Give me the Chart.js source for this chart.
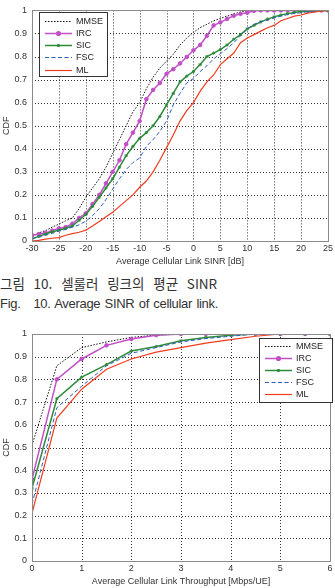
<!DOCTYPE html>
<html lang="ko">
<head>
<meta charset="UTF-8">
<title>Average SINR / Throughput CDF</title>
<script src="https://cdn.jsdelivr.net/npm/chart.js"></script>
<style>
  body { margin: 0; background: #fff; }
  #page { position: relative; width: 335px; height: 588px; overflow: hidden; }
  .box { position: absolute; left: 0; width: 335px; height: 268px; }
  .cap { position: absolute; left: 0; font-family: "Liberation Sans", "Noto Sans CJK KR", sans-serif; font-size: 13px; color: #333; white-space: nowrap; }
</style>
</head>
<body>
<div id="page">
  <div class="box" style="top:0"><canvas id="sinrChart" width="335" height="268"></canvas></div>
  <div class="cap" style="top:273px; font-family:'Noto Sans CJK KR', sans-serif; font-size:13.5px; word-spacing:5px;">그림 10. 셀룰러 링크의 평균 SINR</div>
  <div class="cap" style="top:296px; word-spacing:1px; letter-spacing:-0.3px;">Fig.&nbsp;&nbsp; 10. Average SINR of cellular link.</div>
  <div class="box" style="top:320px"><canvas id="tputChart" width="335" height="268"></canvas></div>
</div>

<script>
// series names
const schemes = ['MMSE', 'IRC', 'SIC', 'FSC', 'ML'];

// top chart: average SINR [dB]
const sinrX = [-30, -28.75, -27.5, -26.25, -25, -23.75, -22.5, -21.25, -20, -18.75, -17.5, -16.25, -15,
  -13.75, -12.5, -11.25, -10, -8.75, -7.5, -6.25, -5, -3.75, -2.5, -1.25, 0, 1.25, 2.5, 3.75, 5,
  6.25, 7.5, 8.75, 10, 11.25, 12.5, 13.75, 15, 16.25, 17.5, 18.75, 20, 21.25, 22.5, 23.75, 25];
const sinrMMSE = [0.02, 0.035, 0.045, 0.06, 0.073, 0.088, 0.1, 0.14, 0.19, 0.23, 0.27, 0.32, 0.38,
  0.44, 0.5, 0.56, 0.6, 0.66, 0.71, 0.75, 0.78, 0.81, 0.85, 0.88, 0.905, 0.925, 0.94, 0.955, 0.965,
  0.975, 0.985, 0.993, 0.998, 1, 1, 1, 1, 1, 1, 1, 1, 1, 1, 1, 1];
const sinrIRC = [0.025, 0.03, 0.035, 0.045, 0.055, 0.06, 0.075, 0.1, 0.12, 0.16, 0.2, 0.25, 0.3,
  0.35, 0.42, 0.47, 0.52, 0.615, 0.655, 0.685, 0.725, 0.745, 0.77, 0.798, 0.827, 0.85, 0.89, 0.935, 0.948,
  0.963, 0.977, 0.985, 0.99, 0.998, 1, 1, 1, 1, 1, 1, 1, 1, 1, 1, 1];
const sinrSIC = [0.01, 0.02, 0.03, 0.04, 0.047, 0.055, 0.065, 0.09, 0.115, 0.15, 0.19, 0.23, 0.27,
  0.32, 0.37, 0.41, 0.445, 0.47, 0.5, 0.54, 0.59, 0.64, 0.69, 0.715, 0.735, 0.765, 0.8, 0.815, 0.83,
  0.85, 0.875, 0.895, 0.92, 0.935, 0.95, 0.962, 0.972, 0.98, 0.986, 0.991, 0.995, 0.997, 0.999, 1, 1];
const sinrFSC = [0.01, 0.018, 0.025, 0.033, 0.043, 0.05, 0.06, 0.07, 0.086, 0.11, 0.14, 0.18, 0.225,
  0.27, 0.31, 0.34, 0.36, 0.41, 0.44, 0.475, 0.52, 0.59, 0.64, 0.685, 0.705, 0.735, 0.76, 0.79, 0.812,
  0.835, 0.86, 0.89, 0.92, 0.94, 0.95, 0.958, 0.967, 0.975, 0.982, 0.987, 0.99, 0.994, 0.997, 1, 1];
const sinrML = [0, 0.003, 0.008, 0.012, 0.015, 0.025, 0.032, 0.038, 0.047, 0.065, 0.085, 0.105, 0.125,
  0.15, 0.175, 0.2, 0.233, 0.26, 0.3, 0.35, 0.405, 0.46, 0.52, 0.565, 0.6, 0.65, 0.69, 0.72, 0.765,
  0.79, 0.815, 0.86, 0.88, 0.895, 0.91, 0.925, 0.935, 0.955, 0.965, 0.975, 0.98, 0.988, 0.993, 0.997, 1];
const sinrTicks = [-30, -25, -20, -15, -10, -5, 0, 5, 10, 15, 20, 25];

// bottom chart: average throughput [Mbps/UE]
const tputX = [0, 0.5, 1, 1.5, 2, 2.5, 3, 3.5, 4, 4.5, 5, 5.5, 6];
const tputMMSE = [0.51, 0.86, 0.94, 0.965, 0.985, 0.995, 1, 1, 1, 1, 1, 1, 1];
const tputIRC = [0.36, 0.80, 0.89, 0.95, 0.978, 0.995, 1, 1, 1, 1, 1, 1, 1];
const tputSIC = [0.32, 0.715, 0.81, 0.865, 0.925, 0.945, 0.97, 0.985, 0.995, 1, 1, 1, 1];
const tputFSC = [0.25, 0.675, 0.77, 0.86, 0.915, 0.94, 0.965, 0.98, 0.99, 1, 1, 1, 1];
const tputML = [0.21, 0.63, 0.757, 0.845, 0.89, 0.92, 0.94, 0.96, 0.975, 0.99, 1, 1, 1];
const tputTicks = [0, 1, 2, 3, 4, 5, 6];

const cdfTicks = [0, 0.1, 0.2, 0.3, 0.4, 0.5, 0.6, 0.7, 0.8, 0.9, 1];

const styles = {
  MMSE: { color: '#111', width: 1, dash: [1.5, 1.5], point: false },
  IRC:  { color: '#c24fc8', width: 1.5, dash: [], point: 'circle', r: 1.8 },
  SIC:  { color: '#2f8a3c', width: 1.5, dash: [], point: 'star', r: 1.6 },
  FSC:  { color: '#2d5cc0', width: 1, dash: [4, 2.5], point: false },
  ML:   { color: '#f03c1e', width: 1.2, dash: [], point: false }
};

const FONT = '"Liberation Sans", Arial, sans-serif';

function makeSets(xs, ys) {
  return schemes.map((name, i) => {
    const s = styles[name];
    return {
      label: name,
      data: xs.map((x, j) => ({ x: x, y: ys[i][j] })),
      borderColor: s.color,
      backgroundColor: s.color,
      borderWidth: s.width,
      borderDash: s.dash,
      pointStyle: s.point || 'circle',
      pointRadius: s.point ? s.r : 0,
      pointBorderWidth: 1,
      tension: 0,
      fill: false,
      order: 5 - i
    };
  });
}

// dotted grid, box around the axes, legend inside the axes
const boxLegend = {
  id: 'boxLegend',
  beforeDatasetsDraw(chart) {
    const ctx = chart.ctx;
    const a = chart.chartArea;
    ctx.save();
    ctx.beginPath();
    ctx.rect(a.left, a.top, a.right - a.left, a.bottom - a.top);
    ctx.clip();
    ctx.strokeStyle = '#333';
    ctx.lineWidth = 1;
    ctx.setLineDash([1, 2]);
    const xs = chart.scales.x, ys = chart.scales.y;
    xs.ticks.forEach(t => {
      const px = Math.round(xs.getPixelForValue(t.value)) + 0.5;
      ctx.beginPath(); ctx.moveTo(px, a.top); ctx.lineTo(px, a.bottom); ctx.stroke();
    });
    ys.ticks.forEach(t => {
      const py = Math.round(ys.getPixelForValue(t.value)) + 0.5;
      ctx.beginPath(); ctx.moveTo(a.left, py); ctx.lineTo(a.right, py); ctx.stroke();
    });
    ctx.restore();
  },
  afterDraw(chart, args, opts) {
    const ctx = chart.ctx;
    const a = chart.chartArea;
    ctx.save();
    ctx.strokeStyle = '#8a8a8a';
    ctx.lineWidth = 1;
    ctx.setLineDash([]);
    ctx.strokeRect(Math.round(a.left) + 0.5, Math.round(a.top) + 0.5, Math.round(a.right - a.left), Math.round(a.bottom - a.top));

    const L = opts;
    ctx.fillStyle = '#fff';
    ctx.fillRect(L.x, L.y, L.w, L.h);
    ctx.strokeStyle = '#333';
    ctx.strokeRect(L.x + 0.5, L.y + 0.5, L.w, L.h);
    ctx.font = '9px ' + FONT;
    ctx.textBaseline = 'middle';
    chart.data.datasets.forEach((ds, i) => {
      const yy = Math.round(L.y + L.first + i * L.step) + 0.5;
      const s = styles[ds.label];
      ctx.strokeStyle = s.color;
      ctx.lineWidth = s.width;
      ctx.setLineDash(s.dash);
      ctx.beginPath();
      ctx.moveTo(L.x + L.lx0, yy);
      ctx.lineTo(L.x + L.lx1, yy);
      ctx.stroke();
      ctx.setLineDash([]);
      if (s.point) {
        ctx.fillStyle = s.color;
        Chart.helpers.drawPoint(ctx, { pointStyle: s.point, radius: s.r, borderWidth: 1 }, L.x + (L.lx0 + L.lx1) / 2, yy);
      }
      ctx.fillStyle = '#222';
      ctx.fillText(ds.label, L.x + L.tx, yy + 0.5);
    });
    ctx.restore();
  }
};

function makeOptions(xMin, xMax, xTicks, xTitle, padTop, padRight, legend) {
  return {
    responsive: false,
    animation: false,
    layout: { padding: { top: padTop, right: padRight, left: 0, bottom: 0 } },
    plugins: { legend: { display: false }, tooltip: { enabled: false }, boxLegend: legend },
    scales: {
      x: {
        type: 'linear', min: xMin, max: xMax,
        afterBuildTicks: s => { s.ticks = xTicks.map(v => ({ value: v })); },
        afterFit: s => { s.height = 27; },
        grid: { display: false, drawTicks: false },
        border: { display: false },
        ticks: { padding: 2, color: '#333', font: { size: 9, family: FONT }, maxRotation: 0 },
        title: { display: true, text: xTitle, color: '#333', padding: { top: 0, bottom: 1 }, font: { size: 9, family: FONT } }
      },
      y: {
        min: 0, max: 1,
        afterBuildTicks: s => { s.ticks = cdfTicks.map(v => ({ value: v })); },
        afterFit: s => { s.width = 32; },
        grid: { display: false, drawTicks: false },
        border: { display: false },
        ticks: { padding: 5, color: '#333', font: { size: 9, family: FONT },
          callback: v => (v === 0 || v === 1) ? String(v) : v.toFixed(1) },
        title: { display: true, text: 'CDF', color: '#333', padding: { top: 1, bottom: 0 }, font: { size: 9, family: FONT } }
      }
    }
  };
}

new Chart(document.getElementById('sinrChart'), {
  type: 'line',
  data: { datasets: makeSets(sinrX, [sinrMMSE, sinrIRC, sinrSIC, sinrFSC, sinrML]) },
  options: makeOptions(-30, 25, sinrTicks, 'Average Cellular Link SINR [dB]', 8, 7,
    { x: 39, y: 12, w: 68, h: 64, first: 8.5, step: 12.3, lx0: 6, lx1: 33, tx: 37 }),
  plugins: [boxLegend]
});

new Chart(document.getElementById('tputChart'), {
  type: 'line',
  data: { datasets: makeSets(tputX, [tputMMSE, tputIRC, tputSIC, tputFSC, tputML]) },
  options: makeOptions(0, 6, tputTicks, 'Average Cellular Link Throughput [Mbps/UE]', 14, 4,
    { x: 259, y: 18, w: 73, h: 64, first: 8, step: 12, lx0: 6, lx1: 33, tx: 37 }),
  plugins: [boxLegend]
});
</script>
</body>
</html>
